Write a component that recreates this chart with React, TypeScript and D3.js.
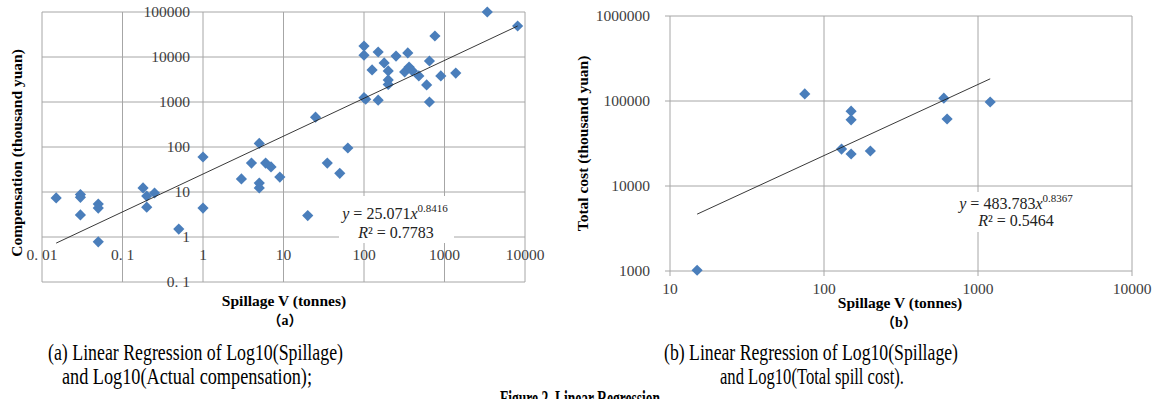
import React from "react";
import * as d3 from "d3";

// ---- Data (a): spillage (tonnes) vs actual compensation (thousand yuan)
const spillA = [0.015, 0.03, 0.03, 0.03, 0.05, 0.05, 0.05, 0.18, 0.2, 0.25, 0.2, 0.5, 1, 1, 3, 4, 5, 5, 5, 6, 7, 9, 20, 25, 35, 50, 63, 100, 100, 100, 105, 126, 150, 150, 178, 200, 200, 200, 250, 350, 320, 363, 400, 480, 600, 650, 650, 760, 900, 1380, 3400, 8100];
const compA = [7.4, 8.8, 7.6, 3.1, 5.4, 4.4, 0.78, 12.3, 8.1, 9.5, 4.6, 1.5, 60, 4.4, 19.5, 44, 120, 15.8, 12.3, 44, 36, 21.5, 3, 460, 44, 26, 95, 17500, 11000, 1250, 1150, 5150, 12900, 1100, 7400, 4900, 3100, 2450, 10500, 12300, 4650, 6000, 4900, 3800, 2400, 8150, 1000, 29300, 3800, 4400, 100000, 48800];

// ---- Data (b): spillage (tonnes) vs total spill cost (thousand yuan)
const spillB = [15, 75, 130, 150, 150, 150, 200, 600, 630, 1200];
const costB = [1020, 121000, 27200, 76000, 60000, 23800, 25800, 108000, 61400, 97300];

// ---- Power-law fits
const fitA = { a: 25.071, b: 0.8416, r2: "0.7783", aText: "25.071", bText: "0.8416" };
const fitB = { a: 483.783, b: 0.8367, r2: "0.5464", aText: "483.783", bText: "0.8367" };

// ---- Tick labels
const xTicksA = [0.01, 0.1, 1, 10, 100, 1000, 10000];
const xTickLabelsA = ["0. 01", "0. 1", "1", "10", "100", "1000", "10000"];
const yTicksA = [0.1, 1, 10, 100, 1000, 10000, 100000];
const yTickLabelsA = ["0. 1", "1", "10", "100", "1000", "10000", "100000"];
const xTicksB = [10, 100, 1000, 10000];
const xTickLabelsB = ["10", "100", "1000", "10000"];
const yTicksB = [1000, 10000, 100000, 1000000];
const yTickLabelsB = ["1000", "10000", "100000", "1000000"];

const SERIF = "'Liberation Serif', 'Times New Roman', serif";
const CJK = "'Noto Sans CJK SC', sans-serif";
const GRID = "#A6A6A6";
const MARK = "#4A7EBB";
const TICKC = "#404040";

function diamond(cx: number, cy: number, r: number) {
  return `M${cx},${cy - r}L${cx + r},${cy}L${cx},${cy + r}L${cx - r},${cy}Z`;
}

function SubLabel({ x, y, letter }: { x: number; y: number; letter: string }) {
  return (
    <text x={x} y={y} textAnchor="middle" fontSize={14} fontWeight="bold" fill="#000">
      <tspan fontFamily={CJK}>（</tspan>
      <tspan fontFamily={SERIF}>{letter}</tspan>
      <tspan fontFamily={CJK}>）</tspan>
    </text>
  );
}

export default function App() {
  const xA = d3.scaleLog().domain([0.01, 10000]).range([42, 525]);
  const yA = d3.scaleLog().domain([0.1, 100000]).range([282, 12]);
  const xB = d3.scaleLog().domain([10, 10000]).range([670, 1132]);
  const yB = d3.scaleLog().domain([1000, 1000000]).range([271, 16]);

  const line = d3.line<number[]>().x((d) => d[0]).y((d) => d[1]);

  const extA = d3.extent(spillA) as [number, number];
  const trendA = line(extA.map((v) => [xA(v), yA(fitA.a * Math.pow(v, fitA.b))]));
  const extB = d3.extent(spillB) as [number, number];
  const trendB = line(extB.map((v) => [xB(v), yB(fitB.a * Math.pow(v, fitB.b))]));

  const [ax0, ax1] = xA.range();
  const [ay0, ay1] = yA.range();
  const [bx0, bx1] = xB.range();
  const [by0, by1] = yB.range();

  return (
    <svg
      width={1161}
      height={399}
      style={{ position: "fixed", left: 0, top: 0, background: "#fff" }}
      fontFamily={SERIF}
    >
      <rect x={0} y={0} width={1161} height={399} fill="#fff" />

      {/* ===================== Chart (a) ===================== */}
      <g>
        {xTicksA.map((t) => (
          <line key={"ax" + t} x1={xA(t)} x2={xA(t)} y1={ay1} y2={ay0} stroke={GRID} strokeWidth={1} />
        ))}
        {yTicksA.map((t) => (
          <line key={"ay" + t} x1={ax0} x2={ax1} y1={yA(t)} y2={yA(t)} stroke={GRID} strokeWidth={1} />
        ))}
        {yTicksA.map((t, i) => (
          <text key={"ayl" + t} x={xA(1) - 13} y={yA(t)} dy="0.35em" textAnchor="end" fontSize={15.5} fill={TICKC}>
            {yTickLabelsA[i]}
          </text>
        ))}
        {xTicksA.map((t, i) => (
          <text key={"axl" + t} x={xA(t)} y={yA(1) + 23} textAnchor="middle" fontSize={15.5} fill={TICKC}>
            {xTickLabelsA[i]}
          </text>
        ))}
        {spillA.map((v, i) => (
          <path key={"pa" + i} d={diamond(xA(v), yA(compA[i]), 5.6)} fill={MARK} />
        ))}
        <path d={trendA || ""} stroke="#222" strokeWidth={0.9} fill="none" />
        <rect x={339} y={196} width={115} height={47} fill="#fff" />
        <text x={395} y={219} textAnchor="middle" fontSize={16} fill="#222">
          <tspan fontStyle="italic">y</tspan>
          <tspan> = {fitA.aText}</tspan>
          <tspan fontStyle="italic">x</tspan>
          <tspan fontSize={11} dy={-7}>{fitA.bText}</tspan>
        </text>
        <text x={396} y={238} textAnchor="middle" fontSize={16} fill="#222">
          <tspan fontStyle="italic">R</tspan>
          <tspan>² = {fitA.r2}</tspan>
        </text>
        <text
          transform={`translate(22,${(ay0 + ay1) / 2 + 6}) rotate(-90)`}
          textAnchor="middle"
          fontSize={15.5}
          fontWeight="bold"
          fill="#000"
        >
          Compensation (thousand yuan)
        </text>
        <text x={284} y={306} textAnchor="middle" fontSize={15.5} fontWeight="bold" fill="#000">
          Spillage V (tonnes)
        </text>
        <SubLabel x={285} y={325} letter="a" />
      </g>

      {/* ===================== Chart (b) ===================== */}
      <g>
        {xTicksB.map((t) => (
          <line key={"bx" + t} x1={xB(t)} x2={xB(t)} y1={by1} y2={by0 + 5} stroke={GRID} strokeWidth={1} />
        ))}
        {yTicksB.map((t) => (
          <line key={"by" + t} x1={bx0 - 5} x2={bx1} y1={yB(t)} y2={yB(t)} stroke={GRID} strokeWidth={1} />
        ))}
        {yTicksB.map((t, i) => (
          <text key={"byl" + t} x={bx0 - 20} y={yB(t)} dy="0.35em" textAnchor="end" fontSize={15.5} fill={TICKC}>
            {yTickLabelsB[i]}
          </text>
        ))}
        {xTicksB.map((t, i) => (
          <text key={"bxl" + t} x={xB(t)} y={by0 + 23} textAnchor="middle" fontSize={15.5} fill={TICKC}>
            {xTickLabelsB[i]}
          </text>
        ))}
        {spillB.map((v, i) => (
          <path key={"pb" + i} d={diamond(xB(v), yB(costB[i]), 5.6)} fill={MARK} />
        ))}
        <path d={trendB || ""} stroke="#222" strokeWidth={0.9} fill="none" />
        <rect x={955} y={192} width={124} height={40} fill="#fff" />
        <text x={1016} y={209} textAnchor="middle" fontSize={16} fill="#222">
          <tspan fontStyle="italic">y</tspan>
          <tspan> = {fitB.aText}</tspan>
          <tspan fontStyle="italic">x</tspan>
          <tspan fontSize={11} dy={-7}>{fitB.bText}</tspan>
        </text>
        <text x={1016} y={226} textAnchor="middle" fontSize={16} fill="#222">
          <tspan fontStyle="italic">R</tspan>
          <tspan>² = {fitB.r2}</tspan>
        </text>
        <text
          transform={`translate(588,${(by0 + by1) / 2}) rotate(-90)`}
          textAnchor="middle"
          fontSize={15.5}
          fontWeight="bold"
          fill="#000"
        >
          Total cost (thousand yuan)
        </text>
        <text x={900} y={308} textAnchor="middle" fontSize={15.5} fontWeight="bold" fill="#000">
          Spillage V (tonnes)
        </text>
        <SubLabel x={899} y={327} letter="b" />
      </g>

      {/* ===================== Captions ===================== */}
      <text x={48} y={360} fontSize={24} fill="#000" textLength={295} lengthAdjust="spacingAndGlyphs">
        (a) Linear Regression of Log10(Spillage)
      </text>
      <text x={62} y={384} fontSize={24} fill="#000" textLength={250} lengthAdjust="spacingAndGlyphs">
        and Log10(Actual compensation);
      </text>
      <text x={664} y={360} fontSize={24} fill="#000" textLength={294} lengthAdjust="spacingAndGlyphs">
        (b) Linear Regression of Log10(Spillage)
      </text>
      <text x={720} y={384} fontSize={24} fill="#000" textLength={184} lengthAdjust="spacingAndGlyphs">
        and Log10(Total spill cost).
      </text>
      <text x={500} y={406} fontSize={24} fontWeight="bold" fill="#000" textLength={160} lengthAdjust="spacingAndGlyphs">
        Figure 2. Linear Regression
      </text>
    </svg>
  );
}
